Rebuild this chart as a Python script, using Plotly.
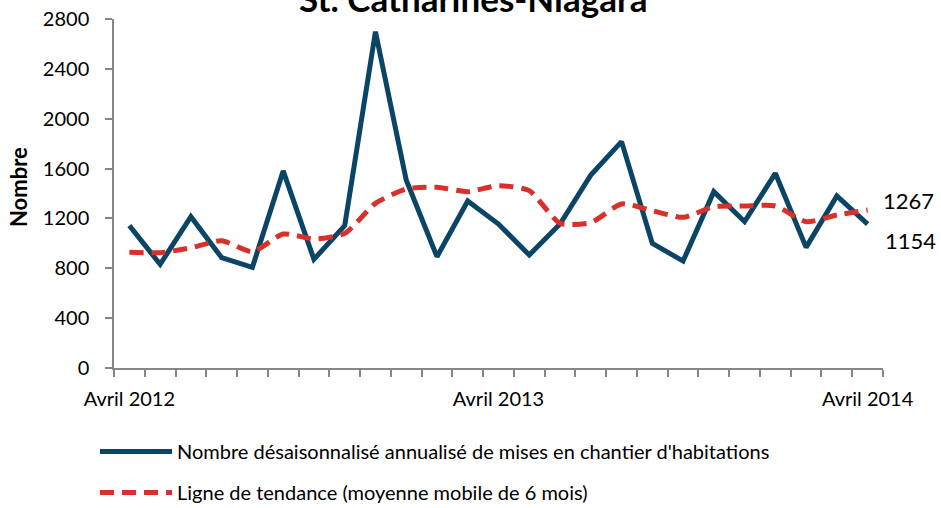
import plotly.graph_objects as go

months = ["Avril 2012", "Mai 2012", "Juin 2012", "Juillet 2012", "Août 2012", "Septembre 2012",
          "Octobre 2012", "Novembre 2012", "Décembre 2012", "Janvier 2013", "Février 2013", "Mars 2013",
          "Avril 2013", "Mai 2013", "Juin 2013", "Juillet 2013", "Août 2013", "Septembre 2013",
          "Octobre 2013", "Novembre 2013", "Décembre 2013", "Janvier 2014", "Février 2014", "Mars 2014",
          "Avril 2014"]
starts = [1142, 832, 1214, 885, 808, 1581, 872, 1142, 2698, 1508, 893, 1340, 1155,
          907, 1155, 1548, 1816, 1000, 858, 1415, 1174, 1562, 968, 1380, 1154]
trend = [928, 925, 965, 1021, 933, 1075, 1035, 1080, 1321, 1436, 1450, 1415, 1463,
         1423, 1161, 1166, 1316, 1262, 1209, 1294, 1300, 1300, 1174, 1227, 1267]
tick_idx = [0, 12, 24]
tick_text = [months[i] for i in tick_idx]
y_ticks = [0, 400, 800, 1200, 1600, 2000, 2400, 2800]

name_starts = "Nombre désaisonnalisé annualisé de mises en chantier d'habitations"
name_trend = "Ligne de tendance (moyenne mobile de 6 mois)"

FONT = "Lato"
AXIS = "#868686"
BLUE = "#0b4566"
RED = "#d8302a"

x = list(range(len(months)))

fig = go.Figure()
fig.add_trace(go.Scatter(x=x, y=starts, mode="lines", name=name_starts,
                         line=dict(color=BLUE, width=5), legendgroup="a",
                         customdata=months, hovertemplate="%{customdata}: %{y}<extra></extra>"))
fig.add_trace(go.Scatter(x=x, y=trend, mode="lines", name=name_trend,
                         line=dict(color=RED, width=5, dash="14px,8px", shape="spline", smoothing=0.6),
                         legendgroup="b",
                         customdata=months, hovertemplate="%{customdata}: %{y}<extra></extra>"))

fig.add_annotation(x=x[-1], y=trend[-1], text=str(trend[-1]), showarrow=False,
                   xanchor="left", yanchor="middle", xshift=13, yshift=10,
                   font=dict(family=FONT, size=22, color="#000000"))
fig.add_annotation(x=x[-1], y=starts[-1], text=str(starts[-1]), showarrow=False,
                   xanchor="left", yanchor="middle", xshift=15, yshift=-16,
                   font=dict(family=FONT, size=22, color="#000000"))
fig.add_annotation(xref="paper", yref="paper", x=-96 / 769, y=(368 - 187) / 349,
                   text="<b>Nombre</b>", textangle=-90, showarrow=False,
                   xanchor="center", yanchor="middle",
                   font=dict(family=FONT, size=22, color="#000000"))

fig.update_layout(
    width=941, height=508,
    margin=dict(l=114, r=58, t=19, b=140, autoexpand=False),
    paper_bgcolor="white", plot_bgcolor="white",
    font=dict(family=FONT, size=20, color="#000000"),
    title=dict(text="<b>St. Catharines-Niagara</b>", x=0.503, xanchor="center",
               xref="container", yref="container", y=(508 - 12) / 508, yanchor="bottom",
               font=dict(family=FONT, size=35, color="#000000")),
    showlegend=True,
    legend=dict(orientation="v", x=95 / 941, xanchor="left", xref="container",
                y=(508 - 432) / 508, yanchor="top", yref="container",
                font=dict(family=FONT, size=20), tracegroupgap=12, itemwidth=72,
                bgcolor="rgba(0,0,0,0)"),
    hovermode="closest",
)
fig.update_xaxes(range=[-0.5, len(months) - 0.5], tickmode="array", tickvals=tick_idx, ticktext=tick_text,
                 ticks="outside", ticklen=12, tickcolor="rgba(0,0,0,0)",
                 minor=dict(tickmode="linear", tick0=-0.5, dtick=1, ticks="outside", ticklen=7,
                            tickcolor=AXIS, tickwidth=1.5, showgrid=False),
                 showline=True, linecolor=AXIS, linewidth=1.5, showgrid=False, zeroline=False,
                 tickfont=dict(family=FONT, size=20))
fig.update_yaxes(range=[0, 2800], tickmode="array", tickvals=y_ticks, ticks="outside", ticklen=7,
                 tickcolor=AXIS, tickwidth=1.5, showline=True, linecolor=AXIS, linewidth=1.5,
                 showgrid=False, zeroline=False, ticklabelstandoff=12,
                 tickfont=dict(family=FONT, size=20))

fig.write_html("out.html", config={"displayModeBar": False},
               post_script="document.body.style.margin='0';document.body.style.overflow='hidden';")
